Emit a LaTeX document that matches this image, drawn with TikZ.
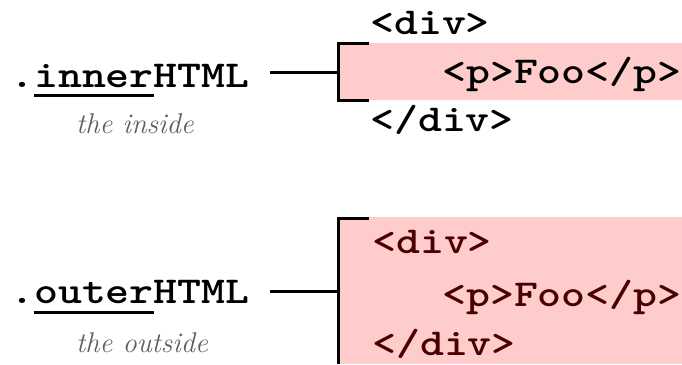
\documentclass[tikz,border=0pt]{standalone}
\usepackage{fontspec}
\definecolor{pinkfill}{HTML}{FFCCCC}
\definecolor{maroon}{HTML}{4A0000}
\definecolor{capgray}{HTML}{5E5E5E}
\newcommand{\codetxt}[1]{\scalebox{1.2}[1]{#1}}
\begin{document}
\begin{tikzpicture}[x=1pt,y=-1pt,
  code/.style={anchor=base west,inner sep=0pt,font=\fontsize{38}{40}\selectfont\ttfamily\bfseries},
  caption/.style={anchor=base west,inner sep=0pt,text=capgray,font=\fontsize{28.5}{30}\selectfont\itshape},
  conn/.style={line width=3pt},
  brk/.style={line width=3pt},
  uline/.style={line width=3pt}]
\useasboundingbox (0,0) rectangle (682,364);
% top: innerHTML
\fill[pinkfill] (338,43) rectangle (682,100);
\node[code] (idiv) at (370,34) {\codetxt{<div>}};
\node[code] (ip) at (442,83) {\codetxt{<p>Foo</p>}};
\node[code] (icdiv) at (370,131) {\codetxt{</div>}};
\node[code] (iname) at (10,87) {\codetxt{.innerHTML}};
\node[caption] (icap) at (76,133) {the inside};
\draw[uline] ([shift={(24,8)}]iname.base west) -- ++(120,0);
\coordinate (ib) at (338,72);
\coordinate (is) at (270,72);
\draw[brk] (369,43) -- (338,43) -- (338,100) -- (369,100);
\draw[conn] (is) -- (ib);
% bottom: outerHTML
\fill[pinkfill] (338,217) rectangle (682,364);
\node[code,text=maroon] (odiv) at (372,253) {\codetxt{<div>}};
\node[code,text=maroon] (op) at (442,306) {\codetxt{<p>Foo</p>}};
\node[code,text=maroon] (ocdiv) at (372,355) {\codetxt{</div>}};
\node[code] (oname) at (10,303) {\codetxt{.outerHTML}};
\node[caption] (ocap) at (76,352) {the outside};
\draw[uline] ([shift={(24,9)}]oname.base west) -- ++(120,0);
\coordinate (ob) at (338,291);
\coordinate (os) at (270,291);
\draw[brk] (369,218) -- (338,218) -- (338,364);
\draw[conn] (os) -- (ob);
\end{tikzpicture}
\end{document}
